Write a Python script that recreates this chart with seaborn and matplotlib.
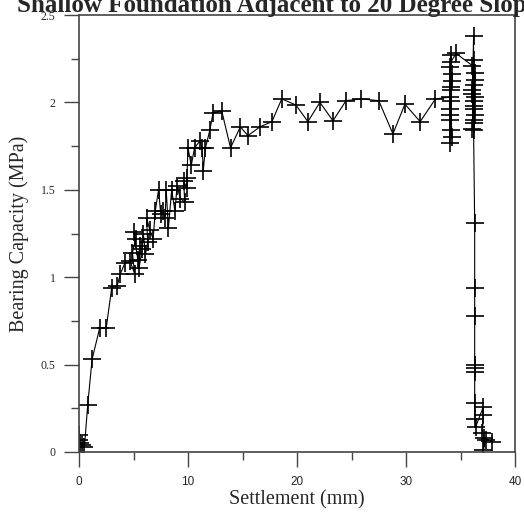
import numpy as np
import pandas as pd
import matplotlib
matplotlib.use('Agg')
import matplotlib.pyplot as plt
from matplotlib.ticker import MultipleLocator
import seaborn as sns

sns.set_style('white')

# settlement (mm) and bearing capacity (MPa) in drawing order
settlement = [0.0, 0.0, 0.1, 0.3, 0.5, 0.8, 1.2, 1.9, 2.5, 3.0, 3.5, 3.8, 4.2, 4.7, 5.1,
              4.9, 5.2, 5.0, 5.4, 5.6, 5.5, 5.8, 5.9, 6.1, 6.3, 6.2, 6.5, 6.8, 7.0, 7.3,
              7.5, 7.7, 7.9, 8.0, 8.2, 8.5, 8.8, 9.0, 9.3, 9.7, 9.6, 9.9, 9.9, 10.0, 10.3,
              10.6, 11.1, 11.3, 11.4, 11.6, 12.0, 12.3, 13.1, 13.9, 14.8, 15.5, 16.6, 17.7,
              18.6, 19.9, 21.0, 22.1, 23.3, 24.5, 25.9, 27.5, 28.8, 29.9, 31.3, 32.7,
              34.0, 34.1, 34.0, 34.2, 34.1, 34.0, 34.2, 34.1, 34.0, 34.1, 34.0, 34.2, 34.1,
              34.0, 34.1, 34.6,
              36.1, 36.2, 36.3, 36.2, 36.1, 36.2, 36.3, 36.2, 36.1, 36.2, 36.3, 36.2, 36.1,
              36.2, 36.2, 36.3, 36.2,
              36.3, 36.3, 36.3, 36.3, 36.3, 36.3, 36.3, 36.3, 36.4,
              37.1, 37.1, 37.0, 37.2, 37.9, 37.3, 37.1]
capacity = [0.10, 0.07, 0.05, 0.04, 0.03, 0.27, 0.53, 0.71, 0.71, 0.94, 0.95, 1.02, 1.08, 1.09, 1.02,
            1.14, 1.22, 1.26, 1.10, 1.18, 1.05, 1.16, 1.25, 1.13, 1.20, 1.34, 1.27, 1.22, 1.38, 1.50,
            1.36, 1.38, 1.34, 1.50, 1.28, 1.50, 1.38, 1.52, 1.45, 1.43, 1.55, 1.51, 1.57, 1.74, 1.64,
            1.74, 1.78, 1.74, 1.61, 1.74, 1.84, 1.94, 1.95, 1.74, 1.86, 1.81, 1.86, 1.89,
            2.02, 1.985, 1.89, 2.00, 1.895, 2.01, 2.02, 2.01, 1.82, 1.99, 1.89, 2.02,
            2.03, 2.09, 1.93, 2.16, 1.84, 2.20, 1.80, 2.07, 1.96, 2.27, 1.90, 2.12, 2.01,
            1.77, 2.23, 2.28,
            2.21, 1.98, 2.13, 1.88, 2.05, 2.24, 1.93, 2.10, 1.85, 2.01, 2.17, 1.90, 2.07,
            2.38, 1.96, 2.03, 1.84,
            1.31, 0.94, 0.78, 0.50, 0.48, 0.46, 0.28, 0.19, 0.145,
            0.26, 0.21, 0.11, 0.08, 0.06, 0.07, 0.01]

df = pd.DataFrame({'settlement': settlement, 'capacity': capacity})

fig = plt.figure(figsize=(5.24, 5.14), dpi=100)
ax = fig.add_axes([79/524, 1 - 452/514, (515 - 79)/524, (452 - 15)/514])

sns.lineplot(data=df, x='settlement', y='capacity', sort=False, estimator=None,
             color='black', linewidth=0.8, marker='+', markersize=13,
             markeredgecolor='black', markeredgewidth=1.2, ax=ax)

ax.set_xlim(0, 40)
ax.set_ylim(0, 2.5)
ax.xaxis.set_minor_locator(MultipleLocator(5))
ax.yaxis.set_minor_locator(MultipleLocator(0.25))
ax.set_yticks([0, 0.5, 1, 1.5, 2, 2.5])
ax.set_yticklabels(['0', '0.5', '1', '1.5', '2', '2.5'], family='Liberation Serif', fontsize=8.5)
ax.set_xticks([0, 10, 20, 30, 40])
ax.set_xticklabels(['0', '10', '20', '30', '40'], family='Liberation Sans', fontsize=8.5)
ax.tick_params(which='major', direction='out', length=11, width=1, color='#444444',
               bottom=True, left=True, pad=6)
ax.tick_params(which='minor', direction='out', length=5.5, width=1, color='#444444',
               bottom=True, left=True)

for s in ax.spines.values():
    s.set_color('#444444')
    s.set_linewidth(1.2)

ax.set_xlabel('Settlement (mm)', family='Liberation Serif', fontsize=14.5, labelpad=2)
ax.set_ylabel('Bearing Capacity (MPa)', family='Liberation Serif', fontsize=14.5, labelpad=8)
fig.text(0.529, 1 - 12/514, 'Shallow Foundation Adjacent to 20 Degree Slope', ha='center',
         va='baseline', family='Liberation Serif', fontweight='bold', fontsize=18)

fig.savefig('out.png', dpi=100)
